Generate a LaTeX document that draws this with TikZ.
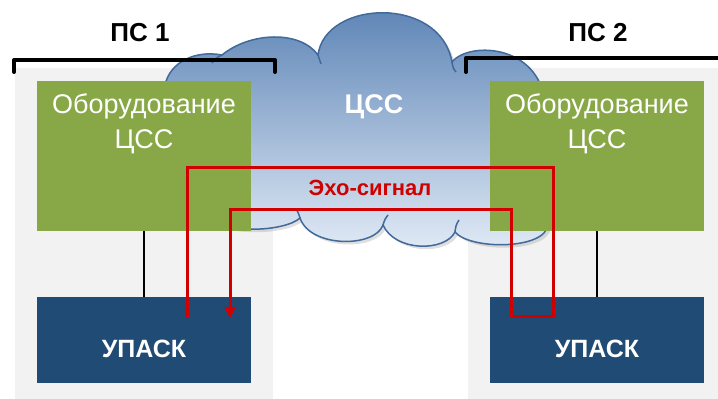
\documentclass[tikz,border=0pt]{standalone}
\usepackage{fontspec}
\setmainfont{Liberation Sans}
\usetikzlibrary{positioning,arrows.meta,shadows}
\definecolor{eqgreen}{HTML}{88A747}
\definecolor{upblue}{HTML}{1F4B75}
\definecolor{panelgray}{HTML}{F2F2F2}
\definecolor{cloudtop}{HTML}{5780B3}
\definecolor{cloudbot}{HTML}{E2EBF6}
\definecolor{cloudline}{HTML}{41699A}
\definecolor{echored}{HTML}{D00000}

\begin{document}
\begin{tikzpicture}[x=1pt, y=1pt,
    eqbox/.style={rectangle, fill=eqgreen, minimum width=214pt, minimum height=150pt, inner sep=0pt},
    upbox/.style={rectangle, fill=upblue, minimum width=214pt, minimum height=86pt, inner sep=0pt},
    eqtext/.style={text=white, align=center, inner sep=0pt, font=\fontsize{27}{35}\selectfont},
    uptext/.style={text=white, inner sep=0pt, font=\bfseries\fontsize{25}{28}\selectfont},
    pstext/.style={inner sep=0pt, font=\bfseries\fontsize{26}{30}\selectfont},
    bracket/.style={line width=4pt, line cap=round, line join=round},
    curl/.style={draw=cloudline, line width=1.5pt},
    echo/.style={draw=echored, line width=3pt},
    node distance = 184pt]
          \useasboundingbox (0,0) rectangle (718,399);
          % panels of the two stations
          \fill[panelgray] (15,0) rectangle (273,331);
          \fill[panelgray] (468,0) rectangle (718,331);
          % network cloud
          \path[draw=cloudline, line width=1.5pt, top color=cloudtop, bottom color=cloudbot,
                drop shadow={opacity=0.25, shadow xshift=3pt, shadow yshift=-3pt}]
            (165,314) .. controls (170,337) and (195,349) .. (222,344)
                      .. controls (250,367) and (300,369) .. (318,344)
                      .. controls (325,399) and (440,404) .. (452,337)
                      .. controls (470,359) and (545,354) .. (545,289)
                      .. controls (575,259) and (578,200) .. (548,174)
                      .. controls (545,149) and (470,149) .. (455,167)
                      .. controls (445,147) and (395,147) .. (383,174)
                      .. controls (375,151) and (310,151) .. (300,181)
                      .. controls (285,167) and (220,164) .. (200,184)
                      .. controls (150,189) and (135,299) .. (165,314) -- cycle;
          % creases of the cloud
          \draw[curl] (222,344) .. controls (216,341) .. (212,336);
          \draw[curl] (318,344) .. controls (319,339) .. (321,335);
          \draw[curl] (452,337) .. controls (453,331) .. (456,327);
          \draw[curl] (455,167) .. controls (456,174) .. (459,179);
          \draw[curl] (383,174) .. controls (385,180) .. (388,184);
          \draw[curl] (300,181) .. controls (298,187) .. (296,190);
          \node[text=white, inner sep=0pt, anchor=base, font=\bfseries\fontsize{27}{30}\selectfont](ccs) at (374,285) {ЦСС};
          % brackets
          \draw[bracket] (14,327) -- (14,339) -- (275,339) -- (275,327);
          \draw[bracket] (466,327) -- (466,341) -- (720,341);
          \node[pstext, anchor=base](ps1) at (140,357) {ПС 1};
          \node[pstext, anchor=base](ps2) at (598,357) {ПС 2};
          % boxes
          \node[eqbox](ob1) at (144,243)                      {};
          \node[upbox](up1) [below of = ob1]                  {};
          \node[eqbox](ob2) [right of = ob1, node distance=453pt] {};
          \node[upbox](up2) [below of = ob2]                  {};
          \node[eqtext, anchor=north](ot1) at ([yshift=-13pt]ob1.north) {Оборудование\\ЦСС};
          \node[eqtext, anchor=north](ot2) at ([yshift=-13pt]ob2.north) {Оборудование\\ЦСС};
          \node[uptext, anchor=base](ut1) at ([yshift=-18pt]up1.center) {УПАСК};
          \node[uptext, anchor=base](ut2) at ([yshift=-18pt]up2.center) {УПАСК};
        \path[draw=black, line width=1.2pt]
          (ob1) edge (up1)
          (ob2) edge (up2)
          ;
          % echo path
          \coordinate (e1) at (187,81);
          \coordinate (e2) at (553,231);
          \coordinate (e3) at (511,82);
          \coordinate (e4) at (230,189);
          \coordinate (e5) at (230,81);
          \draw[echo, -{Triangle[width=11pt,length=11pt]}] (e1) |- (e2) |- (e3) |- (e4) -- (e5);
          \node[text=echored, inner sep=0pt, anchor=base, font=\bfseries\fontsize{22}{26}\selectfont](echo) at (370,203) {Эхо-сигнал};
      \end{tikzpicture}
\end{document}
